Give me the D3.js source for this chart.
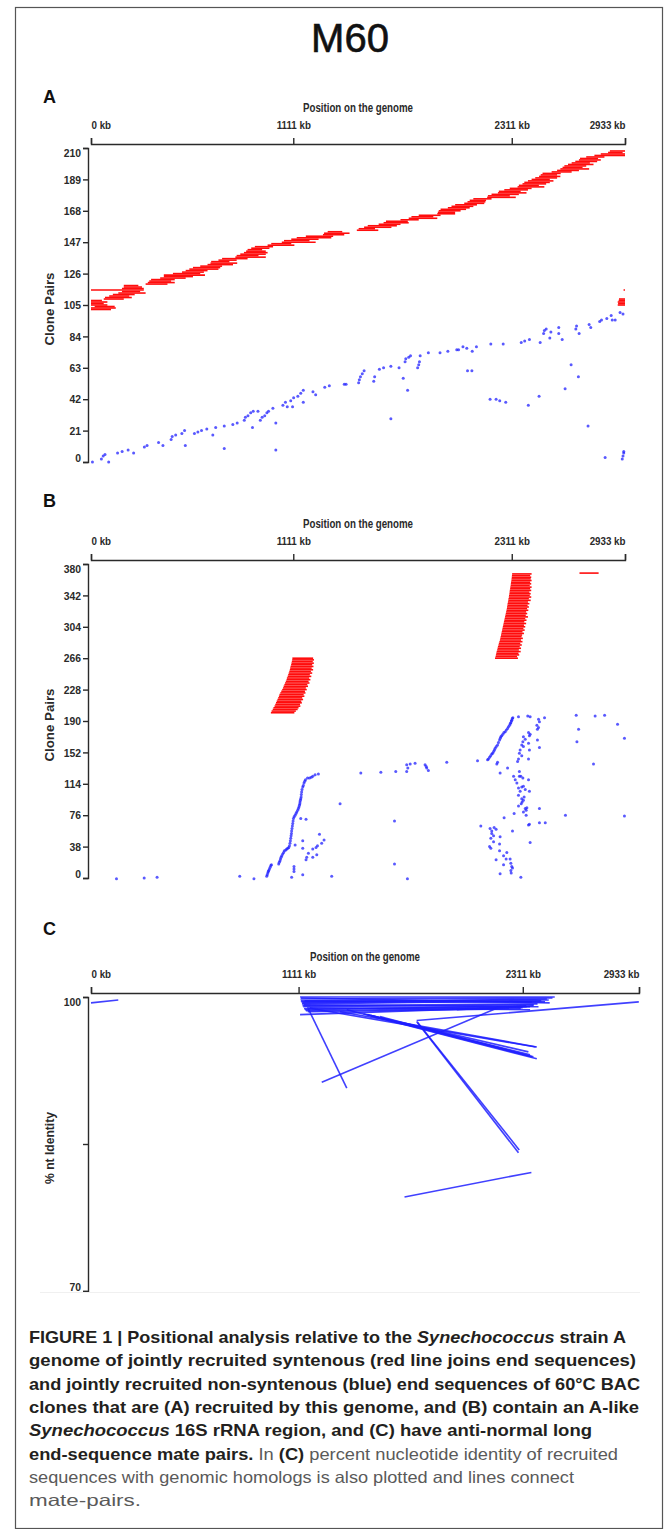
<!DOCTYPE html>
<html>
<head>
<meta charset="utf-8">
<script src="https://cdn.jsdelivr.net/npm/d3@7"></script>
<style>
  body { margin: 0; background: #fff; }
  svg text { font-family: "Liberation Sans Narrow", "Arial Narrow", "Liberation Sans", Arial, sans-serif; }
</style>
</head>
<body>
<svg id="chart" width="669" height="1529"></svg>
<script>
// genome axis (kb)
const genomeTicks = [0, 1111, 2311, 2933]

// y ticks per panel
const ticksA = [0, 21, 42, 63, 84, 105, 126, 147, 168, 189, 210]
const ticksB = [0, 38, 76, 114, 152, 190, 228, 266, 304, 342, 380]
const ticksC = [70, 85, 100]
const labelsC = [70, 100]

// A: syntenous pairs, [clone pair, start kb, end kb]
const redA = [
  [102, 0, 110], [103, 0, 136], [104, 20, 130], [105, 0, 90], [106, 0, 70], [107, 0, 90], [108, 0, 60],
  [109, 70, 180], [110, 77, 224], [111, 100, 210], [112, 120, 240], [113, 150, 300], [114, 170, 270],
  [115, 0, 290], [116, 170, 290], [117, 180, 280], [118, 180, 260], [119, 300, 420], [120, 312, 460],
  [121, 320, 440], [122, 330, 460], [123, 380, 520], [124, 400, 560], [125, 400, 626], [126, 450, 600],
  [127, 500, 620], [128, 520, 640], [129, 540, 700], [130, 560, 710], [131, 600, 720], [132, 640, 780],
  [133, 656, 803], [134, 660, 760], [135, 700, 800], [136, 720, 860], [137, 793, 960], [138, 800, 920],
  [139, 820, 960], [140, 840, 970], [141, 852, 960], [142, 860, 940], [143, 880, 980], [144, 900, 1000],
  [145, 970, 1117], [146, 990, 1100], [147, 1048, 1234], [148, 1060, 1200], [149, 1100, 1250],
  [150, 1130, 1320], [151, 1180, 1330], [152, 1274, 1391], [153, 1280, 1420], [154, 1300, 1380],
  [155, 1460, 1578], [156, 1470, 1560], [157, 1500, 1650], [158, 1520, 1680], [159, 1580, 1700],
  [160, 1607, 1745], [161, 1620, 1740], [162, 1700, 1800], [163, 1745, 1902], [164, 1760, 1880],
  [165, 1800, 1920], [166, 1902, 2000], [167, 1905, 2000], [168, 1910, 2030], [169, 1920, 2060],
  [170, 1960, 2080], [171, 1980, 2100], [172, 2000, 2120], [173, 2050, 2160], [174, 2068, 2166],
  [175, 2080, 2170], [176, 2100, 2200], [177, 2176, 2333], [178, 2180, 2300], [179, 2200, 2350],
  [180, 2235, 2392], [181, 2240, 2360], [182, 2270, 2400], [183, 2300, 2420], [184, 2343, 2490],
  [185, 2350, 2460], [186, 2370, 2500], [187, 2380, 2520], [188, 2400, 2540], [189, 2420, 2520],
  [190, 2440, 2560], [191, 2461, 2578], [192, 2470, 2560], [193, 2480, 2580], [194, 2530, 2640],
  [195, 2560, 2680], [196, 2578, 2736], [197, 2590, 2700], [198, 2600, 2720], [199, 2620, 2760],
  [200, 2640, 2740], [201, 2660, 2780], [202, 2680, 2800], [203, 2686, 2785], [204, 2720, 2820],
  [205, 2765, 2933], [206, 2800, 2933], [207, 2840, 2920], [208, 2850, 2933],
  [105, 2893, 2933], [106, 2895, 2933], [107, 2893, 2933], [108, 2898, 2933], [109, 2900, 2933], [115, 2925, 2933]
]

// A: non-syntenous end sequences, [kb, clone pair]
const blueA = [
  [8, 0], [57, 2], [67, 4], [77, 5], [97, 0], [146, 6], [171, 7], [204, 8], [234, 6], [293, 10], [308, 11],
  [371, 13], [395, 11], [440, 15], [446, 17], [465, 18], [499, 19], [514, 21], [518, 11],
  [568, 19], [587, 20], [607, 21], [636, 22], [669, 18], [685, 23], [732, 24], [732, 9], [779, 25], [803, 26],
  [842, 28], [848, 30], [862, 31], [877, 33], [887, 23], [891, 34], [917, 34], [930, 28], [940, 30], [954, 31],
  [966, 33], [975, 34], [999, 36], [1015, 26], [1015, 8],
  [1054, 38], [1068, 40], [1078, 37], [1097, 41], [1107, 37], [1113, 43], [1136, 44], [1152, 46], [1166, 48],
  [1166, 40], [1219, 47], [1234, 45], [1284, 50], [1309, 51], [1391, 52], [1401, 52],
  [1470, 53], [1474, 55], [1480, 57], [1490, 59], [1500, 61], [1553, 54], [1558, 57], [1584, 62], [1607, 63],
  [1647, 29], [1647, 64], [1692, 63], [1715, 56], [1725, 67], [1729, 69], [1739, 48], [1745, 70], [1755, 71],
  [1794, 63], [1800, 65], [1804, 67], [1808, 71], [1853, 73], [1917, 73], [1960, 74], [2009, 75], [2019, 75],
  [2043, 77], [2064, 76], [2068, 61], [2092, 61], [2094, 74], [2117, 77],
  [2192, 42], [2196, 79], [2225, 42], [2245, 41], [2264, 79], [2278, 40], [2363, 80], [2382, 81], [2402, 38],
  [2408, 82], [2461, 44], [2467, 80], [2486, 86], [2490, 88], [2500, 89], [2520, 83], [2526, 87], [2569, 90],
  [2569, 86], [2588, 82], [2604, 49], [2637, 65], [2663, 89], [2667, 91], [2677, 57], [2681, 86], [2730, 24],
  [2736, 92], [2745, 90], [2794, 94], [2804, 95], [2824, 3], [2833, 96], [2857, 98], [2863, 95], [2879, 95],
  [2906, 100], [2922, 99], [2918, 2], [2922, 4], [2926, 6], [2926, 7]
]

// B: syntenous pairs, [clone pair, start kb, end kb]
const redB = [
  [200, 988, 1117], [202, 992, 1125], [204, 998, 1135], [206, 1002, 1140], [208, 1008, 1150], [210, 1012, 1148],
  [212, 1016, 1158], [214, 1020, 1155], [216, 1024, 1165], [218, 1028, 1160], [220, 1032, 1172], [222, 1035, 1168],
  [224, 1040, 1178], [226, 1045, 1175], [228, 1050, 1185], [230, 1055, 1180], [232, 1058, 1192], [234, 1062, 1188],
  [236, 1066, 1200], [238, 1070, 1195], [240, 1074, 1205], [242, 1076, 1198], [244, 1080, 1210], [246, 1083, 1202],
  [248, 1086, 1215], [250, 1089, 1208], [252, 1092, 1220], [254, 1094, 1212], [256, 1096, 1222], [258, 1099, 1215],
  [260, 1101, 1224], [262, 1103, 1218], [264, 1105, 1225], [266, 1106, 1220],
  [266, 2219, 2345], [268, 2222, 2340], [270, 2224, 2352], [272, 2226, 2348], [274, 2228, 2360], [276, 2231, 2350],
  [278, 2233, 2362], [280, 2235, 2355], [282, 2238, 2366], [284, 2240, 2358], [286, 2243, 2370], [288, 2246, 2362],
  [290, 2248, 2372], [292, 2250, 2365], [294, 2252, 2368], [296, 2254, 2378], [298, 2256, 2370], [300, 2258, 2382],
  [302, 2260, 2375], [304, 2262, 2385], [306, 2264, 2378], [308, 2266, 2390], [310, 2268, 2380], [312, 2270, 2392],
  [314, 2272, 2385], [316, 2274, 2400], [318, 2276, 2388], [320, 2278, 2396], [322, 2280, 2390], [324, 2282, 2402],
  [326, 2284, 2395], [328, 2285, 2405], [330, 2287, 2398], [332, 2288, 2408], [334, 2290, 2400], [336, 2292, 2415],
  [338, 2293, 2405], [340, 2295, 2418], [342, 2296, 2410], [344, 2298, 2415], [346, 2299, 2408], [348, 2300, 2418],
  [350, 2302, 2412], [352, 2303, 2420], [354, 2305, 2410], [356, 2306, 2418], [358, 2307, 2412], [360, 2309, 2420],
  [362, 2310, 2415], [364, 2311, 2418], [366, 2312, 2412], [368, 2313, 2420],
  [369, 2683, 2788]
]

// B: non-syntenous end sequences, [kb, clone pair]
const blueB = [
  [140, -1], [292, 0], [363, 1], [817, 2], [895, -1],
  [965, 2], [968, 4], [971, 6], [974, 8], [976, 9], [980, 11], [984, 13], [988, 15], [991, 16],
  [1031, 17], [1034, 19], [1038, 21], [1041, 23], [1044, 25], [1048, 27], [1053, 29], [1058, 31], [1062, 33],
  [1070, 34], [1075, 35], [1081, 36], [1086, 37], [1090, 39],
  [1093, 42], [1095, 45], [1097, 48], [1099, 51], [1101, 54], [1102, 57], [1104, 60], [1106, 63], [1108, 66],
  [1110, 69], [1112, 72], [1116, 74], [1121, 76], [1126, 78], [1130, 80], [1135, 82], [1139, 84], [1142, 86],
  [1145, 88], [1147, 90], [1148, 92], [1150, 94], [1152, 96], [1154, 98], [1155, 101], [1157, 104], [1159, 107],
  [1163, 110], [1166, 112], [1170, 115], [1174, 117], [1178, 119], [1189, 121], [1200, 121], [1210, 122],
  [1218, 123], [1231, 125], [1249, 126],
  [1102, 1], [1115, 14], [1115, 11], [1115, 8], [1163, 4], [1322, 2], [1121, 40], [1163, 45], [1163, 36],
  [1255, 53], [1280, 46], [1267, 42], [1244, 39], [1236, 37], [1218, 35], [1194, 30], [1185, 25], [1181, 22],
  [1218, 25], [1240, 28], [1152, 72], [1181, 71], [1368, 90],
  [1482, 127], [1592, 128], [1674, 129], [1734, 137], [1740, 133], [1734, 129], [1753, 138], [1780, 139],
  [1835, 137], [1844, 133], [1853, 130], [1841, 135], [1954, 140], [1667, 69], [1667, 17], [1738, -1],
  [2123, 142], [2233, 140], [2229, 138], [2288, 133], [2247, 127],
  [2178, 143], [2183, 144], [2189, 146], [2195, 148], [2201, 150], [2206, 151], [2211, 153], [2216, 155],
  [2220, 157], [2226, 159], [2233, 161], [2238, 164], [2244, 167], [2248, 169], [2251, 171], [2256, 172],
  [2262, 174], [2268, 176], [2275, 177], [2281, 179], [2288, 181], [2293, 183], [2299, 185], [2303, 187],
  [2306, 188], [2309, 190], [2311, 191], [2314, 193], [2317, 194],
  [2348, 195], [2399, 196], [2412, 195], [2458, 192], [2463, 189], [2449, 185], [2458, 182], [2452, 180],
  [2491, 194], [2403, 176], [2412, 174], [2408, 172], [2375, 171], [2385, 168], [2372, 165], [2366, 161],
  [2375, 159], [2357, 155], [2353, 151], [2366, 148], [2403, 163], [2408, 155], [2452, 167], [2463, 158],
  [2403, 144], [2348, 144], [2343, 141],
  [2665, 197], [2769, 196], [2821, 197], [2892, 186], [2678, 180], [2669, 165], [2930, 169], [2760, 138],
  [2353, 129], [2321, 123], [2330, 119], [2361, 123], [2372, 121], [2403, 119], [2348, 109], [2366, 110],
  [2375, 111], [2357, 105], [2385, 107], [2408, 105], [2348, 100], [2366, 96], [2375, 94], [2363, 90],
  [2348, 87], [2385, 84], [2375, 80], [2390, 82], [2390, 76], [2324, 78], [2269, 73], [2463, 84], [2606, 76],
  [2930, 75], [2339, 115], [2379, 98], [2368, 92], [2394, 85], [2353, 123],
  [2403, 64], [2408, 65], [2463, 67], [2495, 67], [2141, 63], [2192, 60], [2201, 57], [2214, 61], [2225, 59],
  [2201, 54], [2211, 51], [2196, 48], [2247, 50], [2315, 57], [2211, 44], [2244, 41], [2189, 38], [2196, 36],
  [2412, 43], [2244, 33], [2284, 31], [2266, 27], [2280, 23], [2225, 22], [2302, 23], [2266, 16], [2306, 18],
  [2311, 14], [2315, 12], [2306, 9], [2308, 6], [2247, 5], [2361, 1]
]

// C: mate pairs, [kb 1, % identity 1, kb 2, % identity 2]
const matesC = [
  [0, 99.4, 146, 99.7],
  [1119, 100, 2482, 100], [1121, 99.8, 2470, 99.9], [1123, 99.6, 2450, 99.7], [1126, 99.5, 2430, 99.5],
  [1129, 99.3, 2410, 99.6], [1132, 99.1, 2390, 99.3], [1136, 99.0, 2370, 99.2], [1140, 98.8, 2350, 99.0],
  [1145, 98.7, 2330, 99.1], [1150, 98.6, 2310, 98.9], [1160, 98.5, 2300, 98.8], [1170, 98.9, 2350, 98.7],
  [1124, 99.9, 2455, 99.4], [1131, 99.4, 2440, 99.8], [1138, 99.2, 2395, 99.0], [1143, 99.6, 2360, 99.5],
  [1119, 98.2, 2332, 99.0], [1958, 98.7, 2368, 99.1], [1743, 97.6, 2932, 99.5],
  [1163, 98.8, 1369, 90.7], [1235, 91.3, 2190, 99.0],
  [1743, 97.5, 2288, 84.1], [1748, 97.4, 2292, 84.4],
  [1157, 98.9, 2380, 94.9], [1333, 98.5, 2386, 94.9], [1369, 98.7, 2386, 93.7], [1458, 98.3, 2341, 94.4],
  [1480, 98.2, 2350, 94.1], [1500, 98.1, 2360, 93.9], [1547, 98.0, 2368, 93.9],
  [1678, 79.6, 2357, 82.1]
]

const captionLines = [
  [['FIGURE 1 | Positional analysis relative to the ', 'b'], ['Synechococcus', 'bi'], [' strain A', 'b']],
  [['genome of jointly recruited syntenous (red line joins end sequences)', 'b']],
  [['and jointly recruited non-syntenous (blue) end sequences of 60°C BAC', 'b']],
  [['clones that are (A) recruited by this genome, and (B) contain an A-like', 'b']],
  [['Synechococcus', 'bi'], [' 16S rRNA region, and (C) have anti-normal long', 'b']],
  [['end-sequence mate pairs.', 'b'], [' In ', 'r'], ['(C)', 'b'], [' percent nucleotide identity of recruited', 'r']],
  [['sequences with genomic homologs is also plotted and lines connect', 'r']],
  [['mate-pairs.', 'r']]
]
const captionWidths = [597, 607, 611, 610, 563, 589, 545, 112]

const svg = d3.select('#chart')
const ink = '#2a2a2a'

// squeeze axis labels to the narrow face of the original
function narrow (sel, k) {
  sel.each(function () {
    const w = this.getComputedTextLength()
    if (w > 0) {
      d3.select(this).attr('textLength', w * k).attr('lengthAdjust', 'spacingAndGlyphs')
    }
  })
}

// frame
svg.append('rect')
  .attr('x', 15.5).attr('y', 7.5).attr('width', 647).attr('height', 1521)
  .attr('fill', 'none').attr('stroke', '#555').attr('stroke-width', 1.2)

svg.append('text')
  .attr('x', 350).attr('y', 52)
  .attr('text-anchor', 'middle')
  .style('font-family', '"Liberation Sans", Arial, sans-serif')
  .attr('font-size', 40)
  .attr('fill', '#111')
  .attr('stroke', '#111').attr('stroke-width', 0.6)
  .text('M60')

function drawPanel (p) {
  const x = d3.scaleLinear().domain([0, 2933]).range([91, p.x1])
  const y = d3.scaleLinear().domain(p.yDomain).range([p.yBot, p.yTop])

  svg.append('text')
    .attr('x', 43).attr('y', p.letterY)
    .style('font-family', '"Liberation Sans", Arial, sans-serif')
    .attr('font-size', 18).attr('font-weight', 'bold').attr('fill', '#111')
    .text(p.letter)

  svg.append('text')
    .attr('x', (91 + p.x1) / 2).attr('y', p.axisY - 32)
    .attr('text-anchor', 'middle')
    .attr('font-size', 12).attr('font-weight', 'bold').attr('fill', ink)
    .attr('textLength', 110).attr('lengthAdjust', 'spacingAndGlyphs')
    .text('Position on the genome')

  const gx = svg.append('g')
    .attr('transform', `translate(0,${p.axisY})`)
    .call(d3.axisTop(x).tickValues(genomeTicks).tickFormat(d => d + ' kb').tickSize(6).tickPadding(9))
  gx.select('.domain').attr('stroke', ink).attr('stroke-width', 1.4)
  gx.selectAll('.tick line').attr('stroke', ink).attr('stroke-width', 1.4)
  gx.selectAll('.tick text')
    .attr('font-size', 11.5).attr('font-weight', 'bold').attr('fill', ink)
    .attr('text-anchor', (d, i) => i === 0 ? 'start' : (i === genomeTicks.length - 1 ? 'end' : 'middle'))
    .call(narrow, 0.85)

  const lo = p.yDomain[0], hi = p.yDomain[1]
  const gy = svg.append('g')
    .attr('transform', 'translate(88,0)')
    .call(d3.axisLeft(y).tickValues(p.yTicks)
      .tickFormat(d => p.yLabels.includes(d) ? d : '')
      .tickSize(5).tickPadding(2))
  gy.select('.domain').attr('stroke', ink).attr('stroke-width', 1.4)
  gy.selectAll('.tick line').attr('stroke', ink).attr('stroke-width', 1.4)
  gy.selectAll('.tick text')
    .attr('font-size', 11.5).attr('font-weight', 'bold').attr('fill', ink)
    .attr('dy', d => d === hi ? '0.72em' : (d === lo ? '-0.02em' : '0.32em'))
    .call(narrow, 0.9)

  const cy = (p.yTop + p.yBot) / 2 + 4
  svg.append('text')
    .attr('transform', `translate(54,${cy}) rotate(-90)`)
    .attr('text-anchor', 'middle')
    .style('font-family', '"Liberation Sans", Arial, sans-serif')
    .attr('font-size', 12).attr('font-weight', 'bold').attr('fill', ink)
    .attr('textLength', p.yTitleLen).attr('lengthAdjust', 'spacingAndGlyphs')
    .text(p.yTitle)

  return { x, y }
}

function drawPairs (s, rows) {
  svg.append('g').selectAll('line')
    .data(rows)
    .join('line')
    .attr('x1', d => s.x(d[1]))
    .attr('x2', d => s.x(d[2]))
    .attr('y1', d => s.y(d[0]))
    .attr('y2', d => s.y(d[0]))
    .attr('stroke', '#ff0d0d')
    .attr('stroke-width', 1.6)
}

function drawEnds (s, pts) {
  svg.append('g').selectAll('circle')
    .data(pts)
    .join('circle')
    .attr('cx', d => s.x(d[0]))
    .attr('cy', d => s.y(d[1]))
    .attr('r', 1.5)
    .attr('fill', '#2222ff')
    .attr('fill-opacity', 0.75)
}

const sA = drawPanel({
  letter: 'A', letterY: 103, axisY: 144, x1: 625,
  yDomain: [0, 210], yTop: 148, yBot: 462, yTicks: ticksA, yLabels: ticksA,
  yTitle: 'Clone Pairs', yTitleLen: 73
})
drawPairs(sA, redA)
drawEnds(sA, blueA)

const sB = drawPanel({
  letter: 'B', letterY: 507, axisY: 560, x1: 625,
  yDomain: [0, 380], yTop: 564, yBot: 878, yTicks: ticksB, yLabels: ticksB,
  yTitle: 'Clone Pairs', yTitleLen: 73
})
drawPairs(sB, redB)
drawEnds(sB, blueB)

const sC = drawPanel({
  letter: 'C', letterY: 935, axisY: 993, x1: 639,
  yDomain: [70, 100], yTop: 997, yBot: 1291, yTicks: ticksC, yLabels: labelsC,
  yTitle: '% nt Identity', yTitleLen: 72
})
svg.append('g').selectAll('line')
  .data(matesC)
  .join('line')
  .attr('x1', d => sC.x(d[0]))
  .attr('y1', d => sC.y(d[1]))
  .attr('x2', d => sC.x(d[2]))
  .attr('y2', d => sC.y(d[3]))
  .attr('stroke', '#1f1fff')
  .attr('stroke-opacity', 0.85)
  .attr('stroke-width', 1.6)

// faint edge of the figure image
svg.append('line')
  .attr('x1', 40).attr('x2', 640).attr('y1', 1292.5).attr('y2', 1292.5)
  .attr('stroke', '#f0f0f0')

// caption
const cap = svg.append('g')
captionLines.forEach((line, i) => {
  const t = cap.append('text')
    .attr('x', 29).attr('y', 1343 + i * 23.3)
    .attr('font-size', 16.5)
    .attr('textLength', captionWidths[i]).attr('lengthAdjust', 'spacingAndGlyphs')
  line.forEach(seg => {
    t.append('tspan')
      .attr('font-weight', seg[1] === 'r' ? 'normal' : 'bold')
      .attr('font-style', seg[1] === 'bi' ? 'italic' : 'normal')
      .attr('fill', seg[1] === 'r' ? '#5a5a5a' : '#231f20')
      .text(seg[0])
  })
})
</script>
</body>
</html>
